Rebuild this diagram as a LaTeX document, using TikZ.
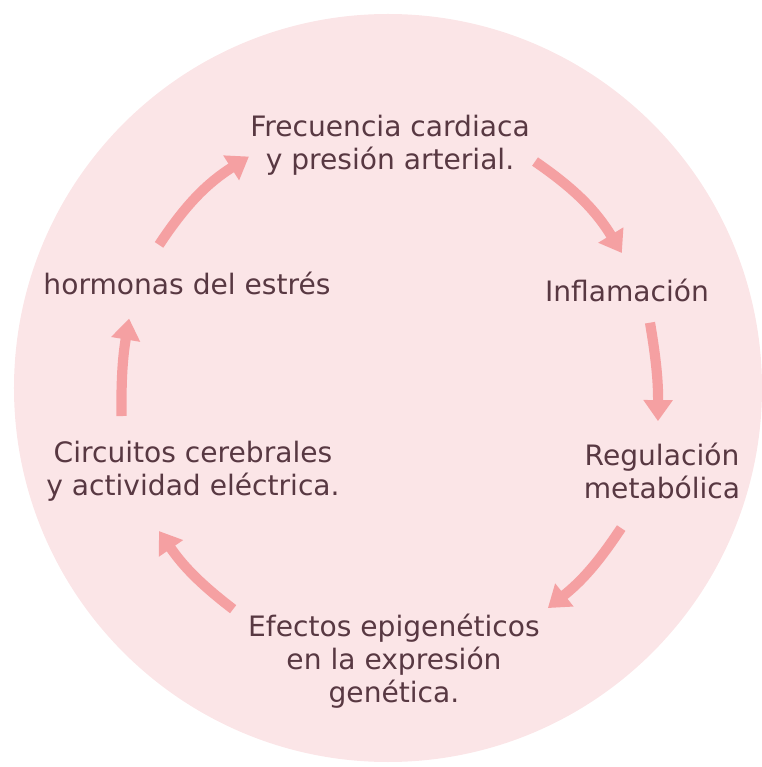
\documentclass[tikz,border=0pt]{standalone}
\usepackage{fontspec}
\setmainfont{DejaVu Sans}
\usetikzlibrary{arrows.meta}

\definecolor{ringfill}{RGB}{251,229,231}
\definecolor{arrowpink}{RGB}{245,160,162}
\definecolor{labeltext}{RGB}{88,56,66}

\begin{document}
\begin{tikzpicture}[
        x=0.02cm, y=0.02cm,
        stage/.style={
          text=labeltext,
          align=center,
          inner sep=0pt,
          font=\fontsize{16}{18.7}\selectfont,
        },
        cycle arrow/.style={
          draw=arrowpink,
          line width=5.8pt,
          -{Triangle[width=16pt,length=12pt]},
      }]
      \useasboundingbox (-388,-379) rectangle (373,388);
      \fill[ringfill] (0,0) circle (374);
      % the six stages round the ring
      \node[stage] (frec) at (2,243) {Frecuencia cardiaca\\y presión arterial.};
      \node[stage] (infl) at (239,98) {Inflamación};
      \node[stage] (regu) at (274,-83) {Regulación\\metabólica};
      \node[stage] (efec) at (6,-273) {Efectos epigenéticos\\en la expresión\\genética.};
      \node[stage] (circ) at (-195,-83) {Circuitos cerebrales\\y actividad eléctrica.};
      \node[stage] (horm) at (-201,105) {hormonas del estrés};
      % arrow ends on a ring of radius 270
      \coordinate (horm-out) at (148:270);
      \coordinate (frec-in) at (121:270);
      \coordinate (frec-out) at (57:270);
      \coordinate (infl-in) at (30:270);
      \coordinate (infl-out) at (14:270);
      \coordinate (regu-in) at (-7:272);
      \coordinate (regu-out) at (-31:272);
      \coordinate (efec-in) at (-54:272);
      \coordinate (efec-out) at (235:270);
      \coordinate (circ-in) at (212:270);
      \coordinate (circ-out) at (186:268);
      \coordinate (horm-in) at (165:268);
      \draw[cycle arrow] (horm-out) to[bend left=12] (frec-in);
      \draw[cycle arrow] (frec-out) to[bend left=12] (infl-in);
      \draw[cycle arrow] (infl-out) to[bend left=5] (regu-in);
      \draw[cycle arrow] (regu-out) to[bend left=9] (efec-in);
      \draw[cycle arrow] (efec-out) to[bend left=9] (circ-in);
      \draw[cycle arrow] (circ-out) to[bend left=5] (horm-in);
    \end{tikzpicture}
\end{document}
